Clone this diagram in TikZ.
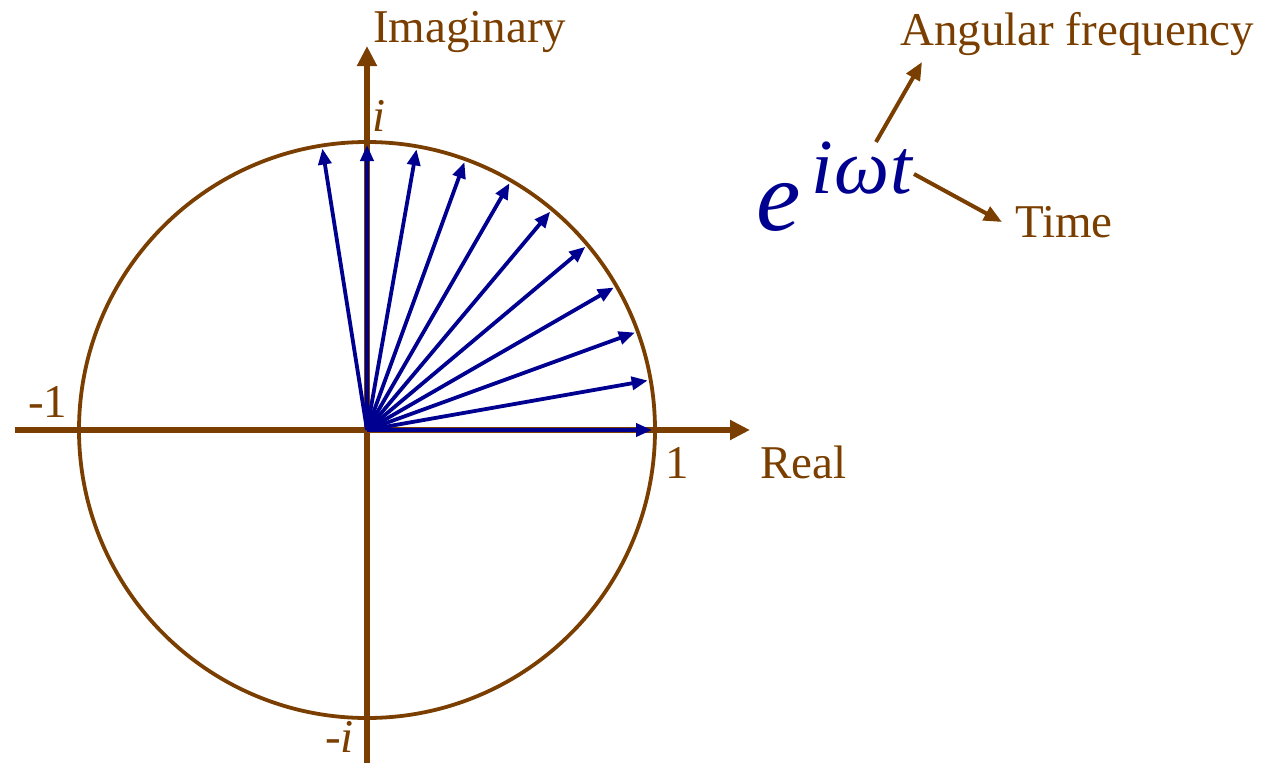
\documentclass[tikz,border=0pt]{standalone}
\usepackage{fontspec}
\setmainfont{Liberation Serif}
\usetikzlibrary{arrows.meta}
\definecolor{brn}{RGB}{122,63,0}
\definecolor{blu}{RGB}{0,0,144}
\begin{document}
\begin{tikzpicture}[x=1pt,y=-1pt,
  lbl/.style={text=brn,font=\fontsize{47}{56}\selectfont,inner sep=0pt,anchor=base west},
  axis/.style={draw=brn,line width=6pt,-{Triangle[length=20pt,width=19pt]}},
  vec/.style={draw=blu,line width=3.8pt,-{Triangle[length=16pt,width=13pt]}},
  pointer/.style={draw=brn,line width=4pt,-{Triangle[length=18pt,width=15pt]}}]
\useasboundingbox (0,0) rectangle (1278,763);
\coordinate (O) at (367,430);
% circle
\draw[brn,line width=3.8pt] (O) circle (288pt);
% axes
\coordinate (hl) at (15,430);
\coordinate (hr) at (750,430);
\coordinate (vb) at (367,765);
\coordinate (vt) at (367,46);
\draw[axis] (hl) -- (hr);
\draw[axis] (vb) -- (vt);
% vectors
\foreach \a in {0,10,...,90,99}{
  \path (O) ++(\a:285pt) coordinate (v\a);
  \draw[vec] (O) -- (v\a);
}
% labels
\node[lbl] (imag) at (373,42) {Imaginary};
\node[lbl] (real) at (760,478) {Real};
\node[lbl] (one) at (665,478) {1};
\node[lbl] (mone) at (28,417) {-1};
\node[lbl] (ii) at (372,131) {\itshape i};
\node[lbl] (mi) at (325,752) {-\itshape i};
\node[lbl] (angf) at (900,45) {Angular frequency};
\node[lbl] (time) at (1015,237) {Time};
% formula
\node[inner sep=0pt,anchor=base west,text=blu,font=\fontsize{100}{120}\selectfont\itshape] (e) at (756,230) {e};
\node[inner sep=0pt,anchor=base west,text=blu,font=\fontsize{78}{92}\selectfont\itshape] (sup) at (811,193) {i\kern2ptω\kern1ptt};
% pointers
\coordinate (pa0) at (876,142);
\coordinate (pa1) at (922,62);
\coordinate (pt0) at (914,174);
\coordinate (pt1) at (1002,222);
\draw[pointer] (pa0) -- (pa1);
\draw[pointer] (pt0) -- (pt1);
\end{tikzpicture}
\end{document}
